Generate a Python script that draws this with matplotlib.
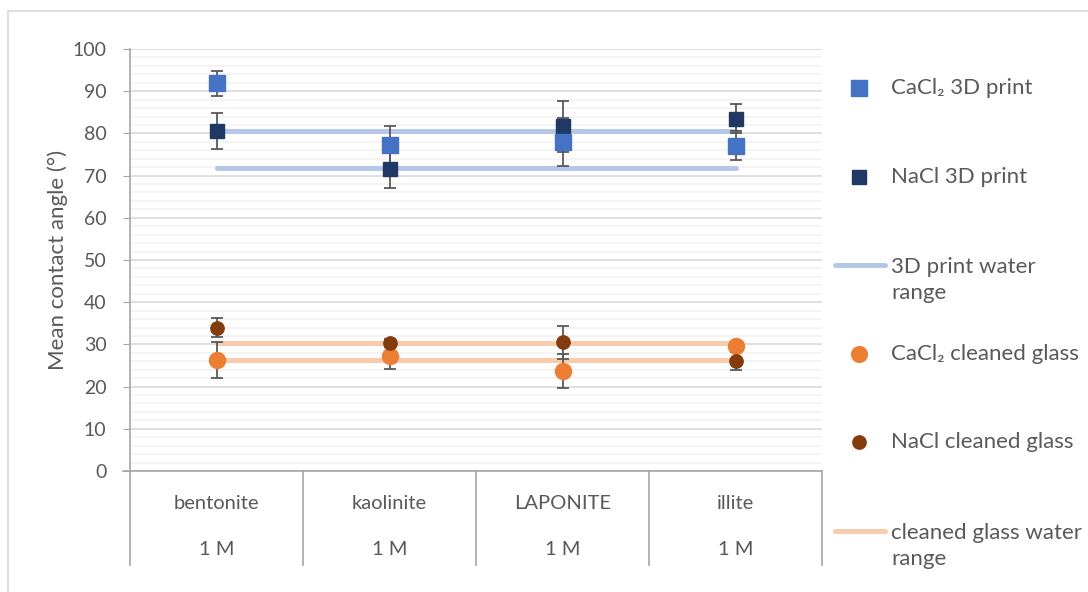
import matplotlib.pyplot as plt
from matplotlib.lines import Line2D
from matplotlib.patches import Rectangle

plt.rcParams['font.family'] = ['Lato', 'Noto Sans', 'DejaVu Sans']

# categories (two level axis)
clays = ["bentonite", "kaolinite", "LAPONITE", "illite"]
conc = ["1 M", "1 M", "1 M", "1 M"]

# 3D print substrate
cacl2_print = [91.9, 77.3, 77.9, 77.1]
cacl2_print_err = [3.0, 4.5, 5.7, 3.4]
nacl_print = [80.6, 71.5, 81.7, 83.5]
nacl_print_err = [4.3, 4.4, 6.0, 3.5]
print_water_range = [80.6, 71.9]

# cleaned glass substrate
cacl2_glass = [26.3, 27.3, 23.7, 29.7]
cacl2_glass_err = [4.3, 3.1, 4.0, 0.8]
nacl_glass = [34.0, 30.3, 30.5, 26.0]
nacl_glass_err = [2.2, 0.9, 3.9, 2.1]
glass_water_range = [30.4, 26.4]

labels = ["CaCl₂ 3D print", "NaCl 3D print", "3D print water\nrange",
          "CaCl₂ cleaned glass", "NaCl cleaned glass", "cleaned glass water\nrange"]

light_blue = "#4472C4"
navy = "#1F3864"
orange = "#ED7D31"
brown = "#843C0C"
blue_range = "#B4C7E7"
peach_range = "#F8CBAD"
grey_text = "#595959"

fig = plt.figure(figsize=(10.88, 5.92), dpi=100)
W, H = 1088, 592
ax = fig.add_axes([130 / W, 1 - 471 / H, 692 / W, 422 / H])

# chart border (only top and left edges are inside the picture)
fig.patches.append(Rectangle((8 / W, -0.1), 1.2, 1.1 - 11 / H, transform=fig.transFigure,
                             fill=False, edgecolor="#D9D9D9", linewidth=1.2))

x = [1, 2, 3, 4]

# water range lines
for v in print_water_range:
    ax.plot([x[0], x[-1]], [v, v], color=blue_range, linewidth=3.6,
            solid_capstyle="round", zorder=2)
for v in glass_water_range:
    ax.plot([x[0], x[-1]], [v, v], color=peach_range, linewidth=3.6,
            solid_capstyle="round", zorder=2)

err_kw = dict(fmt="none", ecolor=grey_text, elinewidth=1.3, capsize=4.5, capthick=1.3, zorder=3)
ax.errorbar(x, cacl2_print, yerr=cacl2_print_err, **err_kw)
ax.errorbar(x, nacl_print, yerr=nacl_print_err, **err_kw)
ax.errorbar(x, cacl2_glass, yerr=cacl2_glass_err, **err_kw)
ax.errorbar(x, nacl_glass, yerr=nacl_glass_err, **err_kw)

ax.plot(x, nacl_print, "s", color=navy, markersize=9.6, zorder=4)
ax.plot(x, cacl2_print, "s", color=light_blue, markersize=11.3, zorder=5)
ax.plot(x, cacl2_glass, "o", color=orange, markersize=11.5, zorder=4)
ax.plot(x, nacl_glass, "o", color=brown, markersize=9.6, zorder=5)

ax.set_xlim(0.5, 4.5)
ax.set_ylim(0, 100)
ax.set_yticks(range(0, 101, 10))
ax.set_yticks(range(0, 101, 2), minor=True)
ax.grid(axis="y", which="major", color="#D9D9D9", linewidth=1.2, zorder=0)
ax.grid(axis="y", which="minor", color="#F2F2F2", linewidth=1.2, zorder=0)
ax.set_axisbelow(True)
ax.tick_params(axis="y", which="major", direction="out", length=5, color="#A6A6A6",
               labelsize=14, labelcolor=grey_text, pad=12)
ax.tick_params(axis="y", which="minor", length=0)
ax.set_xticks([])
for side in ["top", "right"]:
    ax.spines[side].set_visible(False)
ax.spines["left"].set_color("#A6A6A6")
ax.spines["bottom"].set_color("#A6A6A6")
ax.spines["left"].set_linewidth(1.2)
ax.spines["bottom"].set_linewidth(1.2)

ax.set_ylabel("Mean contact angle (°)", fontsize=16, color=grey_text, labelpad=3)

# two level category axis
tr = ax.get_xaxis_transform()
for b in [0.5, 1.5, 2.5, 3.5, 4.5]:
    ax.plot([b, b], [0, -0.223], transform=tr, color="#A6A6A6", linewidth=1.2, clip_on=False)
ax.plot([0.5 - 7 / 173, 0.5], [0, 0], transform=tr, color="#A6A6A6", linewidth=1.2, clip_on=False)
for xi, c, m in zip(x, clays, conc):
    ax.text(xi, -0.076, c, transform=tr, ha="center", va="center", fontsize=14.5, color=grey_text)
    ax.text(xi, -0.185, m, transform=tr, ha="center", va="center", fontsize=14.5, color=grey_text)

# legend, laid out like the Excel one (equal pitch, multi-line labels hang down)
handles = [
    dict(linestyle="none", marker="s", color=light_blue, markersize=11),
    dict(linestyle="none", marker="s", color=navy, markersize=9.6),
    dict(color=blue_range, linewidth=3.6, solid_capstyle="round"),
    dict(linestyle="none", marker="o", color=orange, markersize=11.3),
    dict(linestyle="none", marker="o", color=brown, markersize=9.6),
    dict(color=peach_range, linewidth=3.6, solid_capstyle="round"),
]
line_px = 30
for i, (hk, lab) in enumerate(zip(handles, labels)):
    y_px = 88 + 88.6 * i
    yf = 1 - y_px / H
    if hk.get("marker"):
        xs = [859 / W]
    else:
        xs = [835 / W, 885 / W]
    fig.add_artist(Line2D(xs, [yf] * len(xs), transform=fig.transFigure, **hk))
    n = lab.count("\n") + 1
    yc = 1 - (y_px + (n - 1) * line_px / 2) / H
    fig.text(891 / W, yc, lab, ha="left", va="center", fontsize=16,
             color=grey_text, linespacing=1.35)

fig.savefig("out.png", dpi=100)
